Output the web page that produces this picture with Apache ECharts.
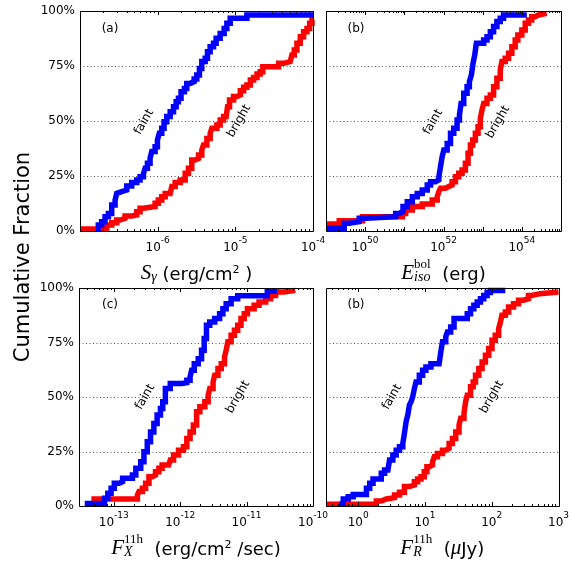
<!DOCTYPE html>
<html><head><meta charset="utf-8">
<script src="https://cdn.jsdelivr.net/npm/echarts@6/dist/echarts.min.js"></script>
<style>html,body{margin:0;padding:0;background:#fff}#c{width:572px;height:561px}</style>
</head><body><div id="c"></div>
<script>
// ---------- data ----------
// Panel (a): S_gamma
const aFaintX = [1.6e-7,1.72e-7,1.9e-7,2.1e-7,2.32e-7,2.56e-7,2.83e-7,2.97e-7,3.12e-7,3.44e-7,4.0e-7,4.63e-7,5.38e-7,5.94e-7,6.55e-7,6.89e-7,7.38e-7,7.98e-7,8.39e-7,9.27e-7,9.93e-7,1.05e-6,1.13e-6,1.21e-6,1.31e-6,1.45e-6,1.6e-6,1.73e-6,1.85e-6,2.0e-6,2.21e-6,2.37e-6,2.62e-6,2.95e-6,3.19e-6,3.45e-6,3.7e-6,4.09e-6,4.38e-6,4.74e-6,5.24e-6,5.66e-6,6.38e-6,7.18e-6,7.78e-6,8.59e-6,1.41e-5,1e-4];
const aFaintY = [1.0,2.7,4.2,6.5,8.0,11.8,14.1,17.1,17.9,18.6,20.5,22.0,23.2,24.7,25.9,28.5,30.8,33.0,36.1,38.3,41.4,44.4,46.7,49.7,52.0,54.2,56.5,58.8,60.3,63.3,64.8,67.1,67.9,69.1,70.9,73.9,77.0,78.5,81.5,83.8,85.3,87.6,89.8,92.1,94.4,96.7,98.2,98.2];
const aBrightX = [1e-7,2.21e-7,2.56e-7,2.97e-7,3.28e-7,3.8e-7,4.63e-7,5.38e-7,5.94e-7,6.55e-7,9.27e-7,1.02e-6,1.13e-6,1.25e-6,1.45e-6,1.52e-6,1.68e-6,1.95e-6,2.26e-6,2.49e-6,2.75e-6,3.04e-6,3.36e-6,3.7e-6,3.89e-6,4.3e-6,4.74e-6,4.98e-6,5.78e-6,6.38e-6,7.05e-6,7.62e-6,7.93e-6,8.42e-6,9.48e-6,1.05e-5,1.16e-5,1.28e-5,1.41e-5,1.56e-5,1.72e-5,1.9e-5,2.09e-5,2.26e-5,3.61e-5,4.18e-5,5.09e-5,5.35e-5,5.74e-5,6.21e-5,6.86e-5,7.57e-5,8.36e-5,9.06e-5,9.7e-5,1e-4];
const aBrightY = [0.9,2.7,3.8,5.0,5.8,6.8,7.3,8.8,10.3,11.1,12.6,14.1,15.6,17.1,17.9,20.2,22.0,23.2,26.2,28.5,32.3,33.0,34.5,36.8,39.1,42.1,44.4,46.7,48.2,50.5,52.0,52.7,56.5,59.5,61.1,61.8,63.8,65.3,66.4,68.6,69.8,71.4,72.4,74.7,76.2,77.0,77.7,80.0,82.3,85.3,88.3,90.6,92.1,94.4,95.9,95.9];

// Panel (b): E_iso^bol
const bFaintX = [1e49,2.92e49,3.92e49,7.03e49,1.04e50,6.02e50,7.32e50,9.25e50,1.19e51,1.6e51,2.14e51,2.87e51,3.85e51,4.67e51,6.26e51,7.61e51,8.39e51,9.25e51,1.02e52,1.24e52,1.51e52,1.83e52,2.22e52,2.55e52,2.81e52,3.29e52,4.0e52,4.58e52,5.15e52,5.68e52,6.26e52,6.91e52,1.06e53,1.29e53,1.57e53,1.9e53,2.31e53,2.81e53,3.42e53,1.34e54];
const bFaintY = [1.2,3.5,4.2,5.8,6.5,8.0,8.8,11.1,13.3,15.6,17.1,18.6,20.9,22.4,23.2,24.7,29.2,33.8,36.8,39.8,44.4,46.7,50.5,52.7,58.0,62.6,65.6,67.9,70.9,76.2,80.0,85.3,86.8,88.3,90.6,92.9,95.2,96.7,98.2,98.2];
const bBrightX = [1e49,2.18e49,8.55e49,8.89e50,1.08e51,1.6e51,2.87e51,5.15e51,6.91e51,7.61e51,8.39e51,1.12e52,1.37e52,1.66e52,2.02e52,2.45e52,2.98e52,3.62e52,4.24e52,4.86e52,5.57e52,6.51e52,7.61e52,8.73e52,9.62e52,1.06e53,1.29e53,1.57e53,1.9e53,2.31e53,2.81e53,3.1e53,3.77e53,4.58e53,5.57e53,6.77e53,7.91e53,1.0e54,1.22e54,1.48e54,1.79e54,2.18e54,2.65e54,4.32e54];
const bBrightY = [3.2,4.7,6.5,8.0,9.5,11.1,12.3,14.1,15.6,17.9,19.4,20.2,20.9,22.4,24.7,26.2,27.7,30.8,35.3,39.1,41.4,44.4,47.4,51.2,55.0,58.0,60.3,61.8,65.6,69.4,73.2,77.0,78.5,80.8,83.8,86.8,89.1,91.4,94.4,95.9,97.4,98.2,98.9,98.9];

// Panel (c): F_X^11h
const cFaintX = [3.66e-14,7.26e-14,8.15e-14,9.13e-14,1.02e-13,1.21e-13,1.36e-13,1.91e-13,2.15e-13,2.55e-13,2.85e-13,3.2e-13,3.58e-13,4.02e-13,4.5e-13,5.05e-13,5.47e-13,5.99e-13,7.1e-13,1.06e-12,1.26e-12,1.41e-12,1.49e-12,1.63e-12,1.87e-12,2.1e-12,2.3e-12,2.49e-12,2.79e-12,3.31e-12,3.93e-12,4.4e-12,4.93e-12,5.85e-12,7.35e-12,2.05e-11,2.89e-11];
const cFaintY = [1.2,3.5,5.8,8.1,10.4,11.1,12.7,14.2,17.3,20.3,24.9,29.5,34.0,37.9,41.7,44.7,47.8,53.9,56.2,56.6,57.7,59.2,62.3,65.3,67.6,71.5,76.8,82.9,84.4,86.0,88.2,90.5,92.8,95.1,96.5,98.5,98.5];
const cBrightX = [4.6e-14,2.27e-13,2.4e-13,2.7e-13,3.02e-13,3.39e-13,3.8e-13,4.26e-13,4.77e-13,5.35e-13,6.71e-13,7.1e-13,7.96e-13,9.44e-13,1.12e-12,1.26e-12,1.41e-12,1.58e-12,1.77e-12,1.98e-12,2.35e-12,2.64e-12,2.79e-12,3.13e-12,3.31e-12,3.71e-12,4.16e-12,4.66e-12,4.93e-12,5.22e-12,5.85e-12,6.56e-12,7.35e-12,8.24e-12,9.23e-12,1.03e-11,1.3e-11,1.54e-11,1.94e-11,2.3e-11,2.73e-11,3.62e-11,5.41e-11];
const cBrightY = [3.2,5.0,6.6,8.1,10.4,13.4,14.2,15.7,17.3,18.8,19.5,21.1,23.4,25.6,27.2,31.0,34.0,37.1,43.2,45.5,47.8,50.8,53.9,56.9,60.0,63.1,65.3,68.4,71.5,75.3,78.3,80.6,82.9,86.0,88.2,90.5,92.1,93.6,95.1,96.6,98.2,98.9,98.9];

// Panel (d): F_R^11h
const dFaintX = [0.516,0.598,0.71,0.843,1.33,1.49,1.67,2.22,2.49,2.79,2.95,3.31,3.71,4.16,4.66,4.93,5.22,5.53,5.85,6.2,6.56,6.95,7.35,8.24,9.23,10.35,12.3,16.3,17.3,18.3,20.5,21.7,24.3,27.3,43.0,48.2,54.0,60.6,67.9,76.1,85.3,95.5,159.6];
const dFaintY = [0.8,3.2,4.3,5.3,8.1,10.4,12.4,15.0,16.5,17.3,21.1,23.4,25.6,27.2,28.7,33.3,38.6,41.7,46.3,47.8,50.1,53.9,56.9,60.0,62.3,63.8,65.3,66.1,70.7,75.3,77.6,79.8,82.1,86.0,88.2,90.5,92.1,93.6,95.1,96.6,97.9,98.9,98.9];
const dBrightX = [0.33,1.87,2.22,2.64,3.5,4.16,4.93,5.85,6.95,7.78,8.73,9.77,10.7,11.6,13.0,13.8,15.4,18.3,20.5,23.0,25.8,28.9,32.4,34.3,38.4,40.6,43.0,48.2,52.8,57.2,64.1,71.8,80.5,90.2,101,113,127,135,142,160,179,212,252,299,355,397,528,1000];
const dBrightY = [0.8,2.3,3.2,3.8,5.0,6.3,8.9,9.6,11.1,12.4,13.4,15.7,18.0,18.8,20.3,22.6,24.1,25.6,26.4,28.7,31.0,34.0,37.1,40.2,42.4,47.8,50.8,54.7,56.9,60.0,63.1,66.1,69.2,72.2,76.0,78.3,81.4,84.4,87.5,89.0,91.3,92.8,94.4,95.1,96.6,97.4,98.2,98.2];

// tick labels
const yTickValues = [0, 25, 50, 75, 100];
const gridLineValues = [25, 50, 75];
const aLabelExp = [-6, -5, -4];
const bLabelExp = [50, 52, 54];
const cLabelExp = [-13, -12, -11, -10];
const dLabelExp = [0, 1, 2, 3];
const seriesNames = ['bright', 'faint'];
const panelTags = ['(a)', '(b)', '(c)', '(b)'];

// ---------- chart ----------
const SANS = 'DejaVu Sans';
const SERIF = 'Liberation Serif';
const titleRich = {
  t: {fontFamily: SANS, fontSize: 18, color: '#000', lineHeight: 26, verticalAlign: 'bottom', align: 'left'},
  it: {fontFamily: SERIF, fontStyle: 'italic', fontSize: 21, color: '#000', lineHeight: 26, verticalAlign: 'bottom', align: 'left'},
  sub: {fontFamily: SERIF, fontStyle: 'italic', fontSize: 14, color: '#000', lineHeight: 17, verticalAlign: 'bottom', align: 'left'},
  subw: {fontFamily: SERIF, fontStyle: 'italic', fontSize: 14, color: '#000', lineHeight: 17, verticalAlign: 'bottom', width: 0.01, align: 'left'},
  sup: {fontFamily: SERIF, fontSize: 13, color: '#000', lineHeight: 15, verticalAlign: 'top', align: 'left'},
  sup2: {fontFamily: SANS, fontSize: 11, color: '#000', lineHeight: 15, height: 25, verticalAlign: 'top', align: 'left'}
};
const panels = [
  {grid: {left: 80, top: 11, width: 233, height: 220}, min: 1e-7, max: 1e-4, labels: aLabelExp, yLab: true,
   name: '{it|S}{sub|γ}{t| (erg/cm}{sup2|2}{t| )}', red: [aBrightX, aBrightY], blue: [aFaintX, aFaintY]},
  {grid: {left: 326, top: 11, width: 235, height: 220}, min: 1e49, max: 1e55, labels: bLabelExp, yLab: false,
   name: '{it|E}{subw|iso}{sup|bol}{t|  (erg)}', red: [bBrightX, bBrightY], blue: [bFaintX, bFaintY]},
  {grid: {left: 79, top: 288, width: 234, height: 218}, min: 3e-14, max: 1e-10, labels: cLabelExp, yLab: true,
   name: '{it|F}{subw|X}{sup|11h}{t|  (erg/cm}{sup2|2}{t| /sec)}', red: [cBrightX, cBrightY], blue: [cFaintX, cFaintY]},
  {grid: {left: 326, top: 288, width: 235, height: 218}, min: 0.33, max: 1e3, labels: dLabelExp, yLab: false,
   name: '{it|F}{subw|R}{sup|11h}{t|  (}{it|μ}{t|Jy)}', red: [dBrightX, dBrightY], blue: [dFaintX, dFaintY]}
];

const option = {animation: false, backgroundColor: '#fff', grid: [], xAxis: [], yAxis: [], series: [], graphic: []};

function zip(xs, ys) { return xs.map((x, i) => [x, ys[i]]); }
function crisp(v) { return Math.round(v) + 0.5; }

panels.forEach((p, i) => {
  option.grid.push(Object.assign({containLabel: false}, p.grid));
  const labels = p.labels;
  option.xAxis.push({
    type: 'log', logBase: 10, gridIndex: i, min: p.min, max: p.max,
    axisLine: {show: false}, axisTick: {show: false}, splitLine: {show: false},
    axisLabel: {
      show: true, margin: 5, showMinLabel: true, showMaxLabel: true, hideOverlap: false,
      formatter: v => {
        const e = Math.log10(v); const r = Math.round(e);
        if (Math.abs(e - r) > 1e-6 || labels.indexOf(r) < 0) return '';
        return '{b|10}{e|' + (r < 0 ? '-' : '') + Math.abs(r) + '}';
      },
      rich: {
        b: {fontFamily: SANS, fontSize: 12, color: '#000', lineHeight: 18, verticalAlign: 'bottom'},
        e: {fontFamily: SANS, fontSize: 9, color: '#000', lineHeight: 9, verticalAlign: 'top'}
      }
    },
    name: p.name, nameLocation: 'middle', nameGap: 27,
    nameTextStyle: {rich: titleRich}
  });
  option.yAxis.push({
    type: 'value', gridIndex: i, min: 0, max: 100, interval: 25,
    axisLine: {show: false}, axisTick: {show: false}, splitLine: {show: false},
    axisLabel: {show: p.yLab, margin: 5, formatter: v => v + '%', fontFamily: SANS, fontSize: 12, color: '#000'}
  });
  // dotted grid lines
  option.series.push({
    type: 'custom', xAxisIndex: i, yAxisIndex: i, z: 1, silent: true,
    data: gridLineValues.map(v => [p.min, v]),
    renderItem: (params, api) => {
      const y = api.value(1);
      const a = api.coord([p.min, y]), b = api.coord([p.max, y]);
      return {type: 'line', shape: {x1: a[0], y1: crisp(a[1]), x2: b[0], y2: crisp(b[1])},
        style: {stroke: '#555', lineWidth: 1, lineDash: [1, 2.5]}};
    }
  });
  // data series
  option.series.push({
    name: seriesNames[0], type: 'line', step: 'end', xAxisIndex: i, yAxisIndex: i, z: 2,
    showSymbol: false, symbol: 'none', clip: true,
    lineStyle: {color: '#ff0000', width: 5.5, join: 'miter', cap: 'butt'},
    data: zip(p.red[0], p.red[1])
  });
  option.series.push({
    name: seriesNames[1], type: 'line', step: 'end', xAxisIndex: i, yAxisIndex: i, z: 3,
    showSymbol: false, symbol: 'none', clip: true,
    lineStyle: {color: '#0000ff', width: 5.5, join: 'miter', cap: 'butt'},
    data: zip(p.blue[0], p.blue[1])
  });
  // ticks + frame
  const lo = Math.log10(p.min), hi = Math.log10(p.max);
  const tickData = [];
  for (let k = Math.floor(lo); k <= Math.ceil(hi); k++) {
    for (let m = 1; m <= 9; m++) {
      const v = m * Math.pow(10, k);
      const lv = Math.log10(v);
      if (lv < lo - 1e-9 || lv > hi + 1e-9) continue;
      tickData.push([v, m === 1 ? 0 : 1]);
    }
  }
  tickData.push([p.min, 2]);
  option.series.push({
    type: 'custom', xAxisIndex: i, yAxisIndex: i, z: 10, silent: true, clip: false,
    data: tickData,
    renderItem: (params, api) => {
      const v = api.value(0), kind = api.value(1);
      if (kind === 2) {
        const a = api.coord([p.min, 100]), b = api.coord([p.max, 0]);
        return {type: 'rect', shape: {x: crisp(a[0]), y: crisp(a[1]), width: Math.round(b[0] - a[0]), height: Math.round(b[1] - a[1])},
          style: {fill: 'none', stroke: '#000', lineWidth: 1}};
      }
      const pb = api.coord([v, 0]), pt = api.coord([v, 100]);
      const len = kind === 0 ? 4 : 2;
      const x = crisp(pb[0]);
      return {type: 'group', children: [
        {type: 'line', shape: {x1: x, y1: pb[1], x2: x, y2: pb[1] - len}, style: {stroke: '#000', lineWidth: 1}},
        {type: 'line', shape: {x1: x, y1: pt[1], x2: x, y2: pt[1] + len}, style: {stroke: '#000', lineWidth: 1}}
      ]};
    }
  });
});

// text annotations
const annots = [
  [panelTags[0], 110, 29, 0], ['faint', 144, 122, 1], ['bright', 239, 121, 1],
  [panelTags[1], 356, 29, 0], ['faint', 433, 122, 1], ['bright', 498, 122, 1],
  [panelTags[2], 110, 305, 0], ['faint', 145, 397, 1], ['bright', 238, 397, 1],
  [panelTags[3], 356, 305, 0], ['faint', 392, 397, 1], ['bright', 492, 397, 1]
];
annots.forEach(a => {
  option.graphic.push({
    type: 'text', x: a[1], y: a[2], rotation: a[3] ? Math.PI / 3 : 0, z: 20,
    style: {text: a[0], fill: '#000', font: '12px "DejaVu Sans"', align: 'center', verticalAlign: 'middle'}
  });
});
option.graphic.push({
  type: 'text', x: 24, y: 257, rotation: Math.PI / 2, z: 20,
  style: {text: 'Cumulative Fraction', fill: '#000', font: '21px "DejaVu Sans"', align: 'center', verticalAlign: 'middle'}
});

const chart = echarts.init(document.getElementById('c'), null, {renderer: 'canvas'});
chart.setOption(option);
</script></body></html>
